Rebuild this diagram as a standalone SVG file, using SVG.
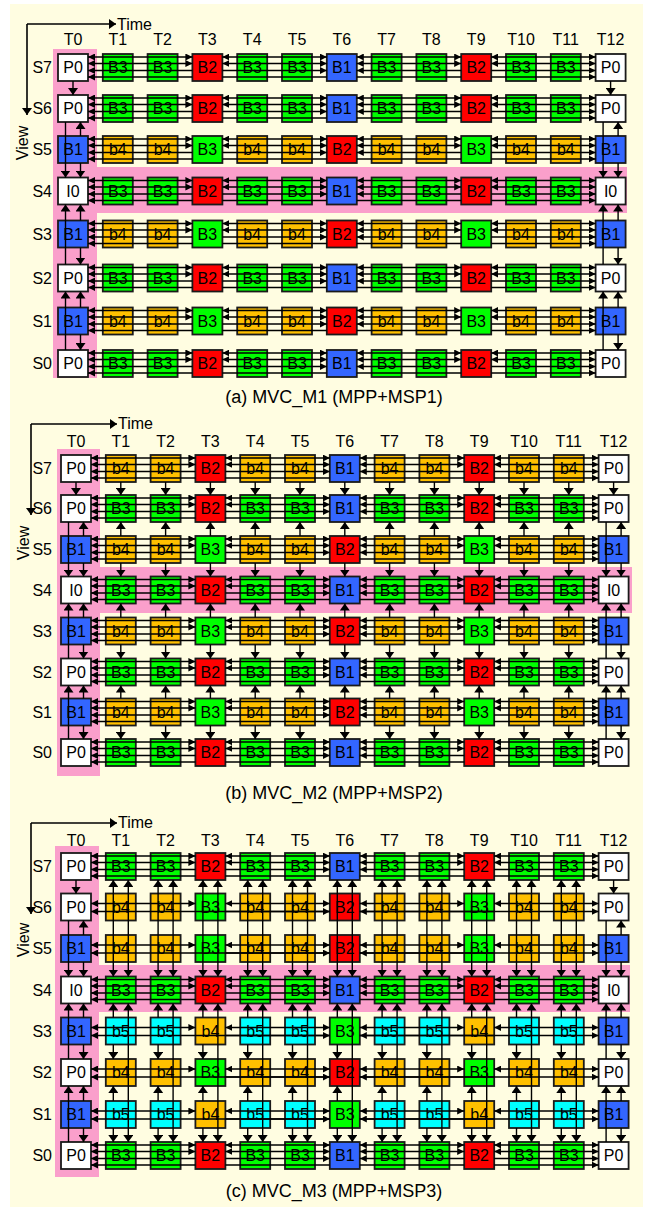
<svg xmlns="http://www.w3.org/2000/svg" width="646" height="1207" viewBox="0 0 646 1207">
<style>
.n text{font:16px "Liberation Sans",Arial,sans-serif;text-anchor:middle;dominant-baseline:central;fill:#000}
.w{fill:#fff}.k1{fill:#3366ff}.k2{fill:#ff0000}.k3{fill:#00ff00}.k4{fill:#ffc000}.k5{fill:#00ffff}
.lb text{font:16px "Liberation Sans",Arial,sans-serif;fill:#000}
.lb .s{text-anchor:end;dominant-baseline:central}
.lb .t{text-anchor:middle}
.lb .cap{font-size:18px;text-anchor:middle}
.pk{fill:#fa9fcb}
.ax{fill:none;stroke:#000;stroke-width:1.6}
</style>
<defs>
<marker id="ah" viewBox="0 0 7 7" refX="7" refY="3.5" markerWidth="7" markerHeight="7" markerUnits="userSpaceOnUse" orient="auto-start-reverse"><path d="M0,0L7,3.5L0,7z"/></marker>
<marker id="av" viewBox="0 0 7 10" refX="7" refY="5" markerWidth="7" markerHeight="10" markerUnits="userSpaceOnUse" orient="auto-start-reverse"><path d="M0,0L7,5L0,10z"/></marker>
<rect id="bx" x="-15" y="-13.5" width="30" height="27" stroke="#1a1a1a" stroke-width="1.8"/>
<g id="h4">
<g marker-start="url(#ah)" marker-end="url(#ah)">
<path d="M15,-10.5H119.4"/><path d="M149.4,-10.5H253.8"/><path d="M283.8,-10.5H388.2"/><path d="M418.2,-10.5H522.6"/>
<path d="M15,-4H119.4"/><path d="M149.4,-4H253.8"/><path d="M283.8,-4H388.2"/><path d="M418.2,-4H522.6"/>
</g>
<g marker-end="url(#ah)">
<path d="M119.4,3H15"/><path d="M149.4,3H253.8"/><path d="M388.2,3H283.8"/><path d="M418.2,3H522.6"/>
<path d="M253.8,9.5H149.4M119.4,9.5H15"/><path d="M283.8,9.5H388.2M418.2,9.5H522.6"/>
</g>
</g>
<g id="h2">
<g marker-start="url(#ah)" marker-end="url(#ah)">
<path d="M15,-3.5H119.4"/><path d="M149.4,-3.5H253.8"/><path d="M283.8,-3.5H388.2"/><path d="M418.2,-3.5H522.6"/>
</g>
<g marker-end="url(#ah)">
<path d="M253.8,4.5H15"/><path d="M149.4,4.5H253.8"/><path d="M283.8,4.5H522.6"/><path d="M418.2,4.5H283.8"/>
</g>
</g>
<g id="va" marker-end="url(#av)">
<path d="M0,81V95"/><path d="M7.5,136V122"/><path d="M-7.5,122V177.5"/><path d="M7.5,163V177.5"/><path d="M7.5,220.5V204.5"/><path d="M-7.5,264.5V204.5"/><path d="M7.5,247.5V264.5"/><path d="M7.5,307.5V291.5"/><path d="M-7.5,350V291.5"/><path d="M7.5,334.5V350"/>
</g>
<g id="vb0" marker-end="url(#av)">
<path d="M0,482V495"/><path d="M7.5,536V522"/><path d="M-7.5,522V576.5"/><path d="M7.5,563V576.5"/><path d="M7.5,617.5V603.5"/><path d="M-7.5,658.5V603.5"/><path d="M7.5,644.5V658.5"/><path d="M7.5,698.5V685.5"/><path d="M-7.5,739V685.5"/><path d="M7.5,725.5V739"/>
</g>
<g id="vbm" marker-end="url(#av)">
<path d="M0,482V495"/><path d="M0,536V522"/><path d="M0,563V576.5"/><path d="M0,617.5V603.5"/><path d="M0,644.5V658.5"/><path d="M0,698.5V685.5"/><path d="M0,725.5V739"/>
</g>
<g id="vc0" marker-end="url(#av)">
<path d="M0,880V893.5"/><path d="M7.5,935V920.5"/><path d="M-7.5,920.5V976.5"/><path d="M7.5,962V976.5"/><path d="M7.5,1017.5V1003.5"/><path d="M-7.5,1059V1003.5"/><path d="M7.5,1044.5V1059"/><path d="M7.5,1101V1086"/><path d="M-7.5,1142V1086"/><path d="M7.5,1128V1142"/>
</g>
<g id="vcm">
<g marker-start="url(#av)" marker-end="url(#av)"><path d="M-7.5,880V976.5"/><path d="M7.5,880V976.5"/><path d="M7.5,1003.5V1142"/></g>
<g marker-end="url(#av)"><path d="M-7.5,1017.5V1003.5"/><path d="M-7.5,1044.5V1059"/><path d="M-7.5,1101V1086"/><path d="M-7.5,1128V1142"/></g>
</g>
</defs>
<rect x="10" y="4" width="633" height="1203" fill="#fffde1"/>
<g id="highlights">
<rect class="pk" x="53" y="49" width="44" height="329"/><rect class="pk" x="53" y="167" width="574" height="46"/>
<rect class="pk" x="57" y="449" width="43" height="327"/><rect class="pk" x="57" y="567" width="575" height="46"/>
<rect class="pk" x="55" y="846" width="44" height="331"/><rect class="pk" x="55" y="965" width="575" height="47"/>
</g>
<g id="axes" class="ax">
<path d="M27,24H116" marker-end="url(#av)"/><path d="M27,24V115" marker-end="url(#av)"/>
<path d="M31,424H117" marker-end="url(#av)"/><path d="M31,424V515" marker-end="url(#av)"/>
<path d="M31,823H117" marker-end="url(#av)"/><path d="M31,823V914" marker-end="url(#av)"/>
</g>
<g id="labels" class="lb">
<text x="117" y="30">Time</text><text x="118" y="429">Time</text><text x="118" y="828">Time</text>
<text transform="translate(28,143) rotate(-90)" class="t">View</text>
<text transform="translate(29,543) rotate(-90)" class="t">View</text>
<text transform="translate(29,940) rotate(-90)" class="t">View</text>
<text class="t" x="73" y="45">T0</text><text class="t" x="117.8" y="45">T1</text><text class="t" x="162.6" y="45">T2</text><text class="t" x="207.4" y="45">T3</text><text class="t" x="252.2" y="45">T4</text><text class="t" x="297" y="45">T5</text><text class="t" x="341.8" y="45">T6</text><text class="t" x="386.6" y="45">T7</text><text class="t" x="431.4" y="45">T8</text><text class="t" x="476.2" y="45">T9</text><text class="t" x="521" y="45">T10</text><text class="t" x="565.8" y="45">T11</text><text class="t" x="610.6" y="45">T12</text>
<text class="t" x="76" y="446.5">T0</text><text class="t" x="120.8" y="446.5">T1</text><text class="t" x="165.6" y="446.5">T2</text><text class="t" x="210.4" y="446.5">T3</text><text class="t" x="255.2" y="446.5">T4</text><text class="t" x="300" y="446.5">T5</text><text class="t" x="344.8" y="446.5">T6</text><text class="t" x="389.6" y="446.5">T7</text><text class="t" x="434.4" y="446.5">T8</text><text class="t" x="479.2" y="446.5">T9</text><text class="t" x="524" y="446.5">T10</text><text class="t" x="568.8" y="446.5">T11</text><text class="t" x="613.6" y="446.5">T12</text>
<text class="t" x="76" y="846">T0</text><text class="t" x="120.8" y="846">T1</text><text class="t" x="165.6" y="846">T2</text><text class="t" x="210.4" y="846">T3</text><text class="t" x="255.2" y="846">T4</text><text class="t" x="300" y="846">T5</text><text class="t" x="344.8" y="846">T6</text><text class="t" x="389.6" y="846">T7</text><text class="t" x="434.4" y="846">T8</text><text class="t" x="479.2" y="846">T9</text><text class="t" x="524" y="846">T10</text><text class="t" x="568.8" y="846">T11</text><text class="t" x="613.6" y="846">T12</text>
<text class="s" x="52" y="67.5">S7</text><text class="s" x="52" y="108.5">S6</text><text class="s" x="52" y="149.5">S5</text><text class="s" x="52" y="191">S4</text><text class="s" x="52" y="234">S3</text><text class="s" x="52" y="278">S2</text><text class="s" x="52" y="321">S1</text><text class="s" x="52" y="363.5">S0</text>
<text class="s" x="52" y="468.5">S7</text><text class="s" x="52" y="508.5">S6</text><text class="s" x="52" y="549.5">S5</text><text class="s" x="52" y="590">S4</text><text class="s" x="52" y="631">S3</text><text class="s" x="52" y="672">S2</text><text class="s" x="52" y="712">S1</text><text class="s" x="52" y="752.5">S0</text>
<text class="s" x="52" y="866.5">S7</text><text class="s" x="52" y="907">S6</text><text class="s" x="52" y="948.5">S5</text><text class="s" x="52" y="990">S4</text><text class="s" x="52" y="1031">S3</text><text class="s" x="52" y="1072.5">S2</text><text class="s" x="52" y="1114.5">S1</text><text class="s" x="52" y="1155.5">S0</text>
<text class="cap" x="334" y="403">(a) MVC_M1 (MPP+MSP1)</text>
<text class="cap" x="334" y="799">(b) MVC_M2 (MPP+MSP2)</text>
<text class="cap" x="334" y="1197">(c) MVC_M3 (MPP+MSP3)</text>
</g>
<g id="nodes-a">
<g class="n" transform="translate(0,67.5)">
<g id="a-S7-T0" class="w"><use href="#bx" x="73"/><text x="73">P0</text></g>
<g id="a-S7-T1" class="k3"><use href="#bx" x="117.8"/><text x="117.8">B3</text></g>
<g id="a-S7-T2" class="k3"><use href="#bx" x="162.6"/><text x="162.6">B3</text></g>
<g id="a-S7-T3" class="k2"><use href="#bx" x="207.4"/><text x="207.4">B2</text></g>
<g id="a-S7-T4" class="k3"><use href="#bx" x="252.2"/><text x="252.2">B3</text></g>
<g id="a-S7-T5" class="k3"><use href="#bx" x="297"/><text x="297">B3</text></g>
<g id="a-S7-T6" class="k1"><use href="#bx" x="341.8"/><text x="341.8">B1</text></g>
<g id="a-S7-T7" class="k3"><use href="#bx" x="386.6"/><text x="386.6">B3</text></g>
<g id="a-S7-T8" class="k3"><use href="#bx" x="431.4"/><text x="431.4">B3</text></g>
<g id="a-S7-T9" class="k2"><use href="#bx" x="476.2"/><text x="476.2">B2</text></g>
<g id="a-S7-T10" class="k3"><use href="#bx" x="521"/><text x="521">B3</text></g>
<g id="a-S7-T11" class="k3"><use href="#bx" x="565.8"/><text x="565.8">B3</text></g>
<g id="a-S7-T12" class="w"><use href="#bx" x="610.6"/><text x="610.6">P0</text></g>
</g>
<g class="n" transform="translate(0,108.5)">
<g id="a-S6-T0" class="w"><use href="#bx" x="73"/><text x="73">P0</text></g>
<g id="a-S6-T1" class="k3"><use href="#bx" x="117.8"/><text x="117.8">B3</text></g>
<g id="a-S6-T2" class="k3"><use href="#bx" x="162.6"/><text x="162.6">B3</text></g>
<g id="a-S6-T3" class="k2"><use href="#bx" x="207.4"/><text x="207.4">B2</text></g>
<g id="a-S6-T4" class="k3"><use href="#bx" x="252.2"/><text x="252.2">B3</text></g>
<g id="a-S6-T5" class="k3"><use href="#bx" x="297"/><text x="297">B3</text></g>
<g id="a-S6-T6" class="k1"><use href="#bx" x="341.8"/><text x="341.8">B1</text></g>
<g id="a-S6-T7" class="k3"><use href="#bx" x="386.6"/><text x="386.6">B3</text></g>
<g id="a-S6-T8" class="k3"><use href="#bx" x="431.4"/><text x="431.4">B3</text></g>
<g id="a-S6-T9" class="k2"><use href="#bx" x="476.2"/><text x="476.2">B2</text></g>
<g id="a-S6-T10" class="k3"><use href="#bx" x="521"/><text x="521">B3</text></g>
<g id="a-S6-T11" class="k3"><use href="#bx" x="565.8"/><text x="565.8">B3</text></g>
<g id="a-S6-T12" class="w"><use href="#bx" x="610.6"/><text x="610.6">P0</text></g>
</g>
<g class="n" transform="translate(0,149.5)">
<g id="a-S5-T0" class="k1"><use href="#bx" x="73"/><text x="73">B1</text></g>
<g id="a-S5-T1" class="k4"><use href="#bx" x="117.8"/><text x="117.8">b4</text></g>
<g id="a-S5-T2" class="k4"><use href="#bx" x="162.6"/><text x="162.6">b4</text></g>
<g id="a-S5-T3" class="k3"><use href="#bx" x="207.4"/><text x="207.4">B3</text></g>
<g id="a-S5-T4" class="k4"><use href="#bx" x="252.2"/><text x="252.2">b4</text></g>
<g id="a-S5-T5" class="k4"><use href="#bx" x="297"/><text x="297">b4</text></g>
<g id="a-S5-T6" class="k2"><use href="#bx" x="341.8"/><text x="341.8">B2</text></g>
<g id="a-S5-T7" class="k4"><use href="#bx" x="386.6"/><text x="386.6">b4</text></g>
<g id="a-S5-T8" class="k4"><use href="#bx" x="431.4"/><text x="431.4">b4</text></g>
<g id="a-S5-T9" class="k3"><use href="#bx" x="476.2"/><text x="476.2">B3</text></g>
<g id="a-S5-T10" class="k4"><use href="#bx" x="521"/><text x="521">b4</text></g>
<g id="a-S5-T11" class="k4"><use href="#bx" x="565.8"/><text x="565.8">b4</text></g>
<g id="a-S5-T12" class="k1"><use href="#bx" x="610.6"/><text x="610.6">B1</text></g>
</g>
<g class="n" transform="translate(0,191)">
<g id="a-S4-T0" class="w"><use href="#bx" x="73"/><text x="73">I0</text></g>
<g id="a-S4-T1" class="k3"><use href="#bx" x="117.8"/><text x="117.8">B3</text></g>
<g id="a-S4-T2" class="k3"><use href="#bx" x="162.6"/><text x="162.6">B3</text></g>
<g id="a-S4-T3" class="k2"><use href="#bx" x="207.4"/><text x="207.4">B2</text></g>
<g id="a-S4-T4" class="k3"><use href="#bx" x="252.2"/><text x="252.2">B3</text></g>
<g id="a-S4-T5" class="k3"><use href="#bx" x="297"/><text x="297">B3</text></g>
<g id="a-S4-T6" class="k1"><use href="#bx" x="341.8"/><text x="341.8">B1</text></g>
<g id="a-S4-T7" class="k3"><use href="#bx" x="386.6"/><text x="386.6">B3</text></g>
<g id="a-S4-T8" class="k3"><use href="#bx" x="431.4"/><text x="431.4">B3</text></g>
<g id="a-S4-T9" class="k2"><use href="#bx" x="476.2"/><text x="476.2">B2</text></g>
<g id="a-S4-T10" class="k3"><use href="#bx" x="521"/><text x="521">B3</text></g>
<g id="a-S4-T11" class="k3"><use href="#bx" x="565.8"/><text x="565.8">B3</text></g>
<g id="a-S4-T12" class="w"><use href="#bx" x="610.6"/><text x="610.6">I0</text></g>
</g>
<g class="n" transform="translate(0,234)">
<g id="a-S3-T0" class="k1"><use href="#bx" x="73"/><text x="73">B1</text></g>
<g id="a-S3-T1" class="k4"><use href="#bx" x="117.8"/><text x="117.8">b4</text></g>
<g id="a-S3-T2" class="k4"><use href="#bx" x="162.6"/><text x="162.6">b4</text></g>
<g id="a-S3-T3" class="k3"><use href="#bx" x="207.4"/><text x="207.4">B3</text></g>
<g id="a-S3-T4" class="k4"><use href="#bx" x="252.2"/><text x="252.2">b4</text></g>
<g id="a-S3-T5" class="k4"><use href="#bx" x="297"/><text x="297">b4</text></g>
<g id="a-S3-T6" class="k2"><use href="#bx" x="341.8"/><text x="341.8">B2</text></g>
<g id="a-S3-T7" class="k4"><use href="#bx" x="386.6"/><text x="386.6">b4</text></g>
<g id="a-S3-T8" class="k4"><use href="#bx" x="431.4"/><text x="431.4">b4</text></g>
<g id="a-S3-T9" class="k3"><use href="#bx" x="476.2"/><text x="476.2">B3</text></g>
<g id="a-S3-T10" class="k4"><use href="#bx" x="521"/><text x="521">b4</text></g>
<g id="a-S3-T11" class="k4"><use href="#bx" x="565.8"/><text x="565.8">b4</text></g>
<g id="a-S3-T12" class="k1"><use href="#bx" x="610.6"/><text x="610.6">B1</text></g>
</g>
<g class="n" transform="translate(0,278)">
<g id="a-S2-T0" class="w"><use href="#bx" x="73"/><text x="73">P0</text></g>
<g id="a-S2-T1" class="k3"><use href="#bx" x="117.8"/><text x="117.8">B3</text></g>
<g id="a-S2-T2" class="k3"><use href="#bx" x="162.6"/><text x="162.6">B3</text></g>
<g id="a-S2-T3" class="k2"><use href="#bx" x="207.4"/><text x="207.4">B2</text></g>
<g id="a-S2-T4" class="k3"><use href="#bx" x="252.2"/><text x="252.2">B3</text></g>
<g id="a-S2-T5" class="k3"><use href="#bx" x="297"/><text x="297">B3</text></g>
<g id="a-S2-T6" class="k1"><use href="#bx" x="341.8"/><text x="341.8">B1</text></g>
<g id="a-S2-T7" class="k3"><use href="#bx" x="386.6"/><text x="386.6">B3</text></g>
<g id="a-S2-T8" class="k3"><use href="#bx" x="431.4"/><text x="431.4">B3</text></g>
<g id="a-S2-T9" class="k2"><use href="#bx" x="476.2"/><text x="476.2">B2</text></g>
<g id="a-S2-T10" class="k3"><use href="#bx" x="521"/><text x="521">B3</text></g>
<g id="a-S2-T11" class="k3"><use href="#bx" x="565.8"/><text x="565.8">B3</text></g>
<g id="a-S2-T12" class="w"><use href="#bx" x="610.6"/><text x="610.6">P0</text></g>
</g>
<g class="n" transform="translate(0,321)">
<g id="a-S1-T0" class="k1"><use href="#bx" x="73"/><text x="73">B1</text></g>
<g id="a-S1-T1" class="k4"><use href="#bx" x="117.8"/><text x="117.8">b4</text></g>
<g id="a-S1-T2" class="k4"><use href="#bx" x="162.6"/><text x="162.6">b4</text></g>
<g id="a-S1-T3" class="k3"><use href="#bx" x="207.4"/><text x="207.4">B3</text></g>
<g id="a-S1-T4" class="k4"><use href="#bx" x="252.2"/><text x="252.2">b4</text></g>
<g id="a-S1-T5" class="k4"><use href="#bx" x="297"/><text x="297">b4</text></g>
<g id="a-S1-T6" class="k2"><use href="#bx" x="341.8"/><text x="341.8">B2</text></g>
<g id="a-S1-T7" class="k4"><use href="#bx" x="386.6"/><text x="386.6">b4</text></g>
<g id="a-S1-T8" class="k4"><use href="#bx" x="431.4"/><text x="431.4">b4</text></g>
<g id="a-S1-T9" class="k3"><use href="#bx" x="476.2"/><text x="476.2">B3</text></g>
<g id="a-S1-T10" class="k4"><use href="#bx" x="521"/><text x="521">b4</text></g>
<g id="a-S1-T11" class="k4"><use href="#bx" x="565.8"/><text x="565.8">b4</text></g>
<g id="a-S1-T12" class="k1"><use href="#bx" x="610.6"/><text x="610.6">B1</text></g>
</g>
<g class="n" transform="translate(0,363.5)">
<g id="a-S0-T0" class="w"><use href="#bx" x="73"/><text x="73">P0</text></g>
<g id="a-S0-T1" class="k3"><use href="#bx" x="117.8"/><text x="117.8">B3</text></g>
<g id="a-S0-T2" class="k3"><use href="#bx" x="162.6"/><text x="162.6">B3</text></g>
<g id="a-S0-T3" class="k2"><use href="#bx" x="207.4"/><text x="207.4">B2</text></g>
<g id="a-S0-T4" class="k3"><use href="#bx" x="252.2"/><text x="252.2">B3</text></g>
<g id="a-S0-T5" class="k3"><use href="#bx" x="297"/><text x="297">B3</text></g>
<g id="a-S0-T6" class="k1"><use href="#bx" x="341.8"/><text x="341.8">B1</text></g>
<g id="a-S0-T7" class="k3"><use href="#bx" x="386.6"/><text x="386.6">B3</text></g>
<g id="a-S0-T8" class="k3"><use href="#bx" x="431.4"/><text x="431.4">B3</text></g>
<g id="a-S0-T9" class="k2"><use href="#bx" x="476.2"/><text x="476.2">B2</text></g>
<g id="a-S0-T10" class="k3"><use href="#bx" x="521"/><text x="521">B3</text></g>
<g id="a-S0-T11" class="k3"><use href="#bx" x="565.8"/><text x="565.8">B3</text></g>
<g id="a-S0-T12" class="w"><use href="#bx" x="610.6"/><text x="610.6">P0</text></g>
</g>
</g>
<g id="nodes-b">
<g class="n" transform="translate(0,468.5)">
<g id="b-S7-T0" class="w"><use href="#bx" x="76"/><text x="76">P0</text></g>
<g id="b-S7-T1" class="k4"><use href="#bx" x="120.8"/><text x="120.8">b4</text></g>
<g id="b-S7-T2" class="k4"><use href="#bx" x="165.6"/><text x="165.6">b4</text></g>
<g id="b-S7-T3" class="k2"><use href="#bx" x="210.4"/><text x="210.4">B2</text></g>
<g id="b-S7-T4" class="k4"><use href="#bx" x="255.2"/><text x="255.2">b4</text></g>
<g id="b-S7-T5" class="k4"><use href="#bx" x="300"/><text x="300">b4</text></g>
<g id="b-S7-T6" class="k1"><use href="#bx" x="344.8"/><text x="344.8">B1</text></g>
<g id="b-S7-T7" class="k4"><use href="#bx" x="389.6"/><text x="389.6">b4</text></g>
<g id="b-S7-T8" class="k4"><use href="#bx" x="434.4"/><text x="434.4">b4</text></g>
<g id="b-S7-T9" class="k2"><use href="#bx" x="479.2"/><text x="479.2">B2</text></g>
<g id="b-S7-T10" class="k4"><use href="#bx" x="524"/><text x="524">b4</text></g>
<g id="b-S7-T11" class="k4"><use href="#bx" x="568.8"/><text x="568.8">b4</text></g>
<g id="b-S7-T12" class="w"><use href="#bx" x="613.6"/><text x="613.6">P0</text></g>
</g>
<g class="n" transform="translate(0,508.5)">
<g id="b-S6-T0" class="w"><use href="#bx" x="76"/><text x="76">P0</text></g>
<g id="b-S6-T1" class="k3"><use href="#bx" x="120.8"/><text x="120.8">B3</text></g>
<g id="b-S6-T2" class="k3"><use href="#bx" x="165.6"/><text x="165.6">B3</text></g>
<g id="b-S6-T3" class="k2"><use href="#bx" x="210.4"/><text x="210.4">B2</text></g>
<g id="b-S6-T4" class="k3"><use href="#bx" x="255.2"/><text x="255.2">B3</text></g>
<g id="b-S6-T5" class="k3"><use href="#bx" x="300"/><text x="300">B3</text></g>
<g id="b-S6-T6" class="k1"><use href="#bx" x="344.8"/><text x="344.8">B1</text></g>
<g id="b-S6-T7" class="k3"><use href="#bx" x="389.6"/><text x="389.6">B3</text></g>
<g id="b-S6-T8" class="k3"><use href="#bx" x="434.4"/><text x="434.4">B3</text></g>
<g id="b-S6-T9" class="k2"><use href="#bx" x="479.2"/><text x="479.2">B2</text></g>
<g id="b-S6-T10" class="k3"><use href="#bx" x="524"/><text x="524">B3</text></g>
<g id="b-S6-T11" class="k3"><use href="#bx" x="568.8"/><text x="568.8">B3</text></g>
<g id="b-S6-T12" class="w"><use href="#bx" x="613.6"/><text x="613.6">P0</text></g>
</g>
<g class="n" transform="translate(0,549.5)">
<g id="b-S5-T0" class="k1"><use href="#bx" x="76"/><text x="76">B1</text></g>
<g id="b-S5-T1" class="k4"><use href="#bx" x="120.8"/><text x="120.8">b4</text></g>
<g id="b-S5-T2" class="k4"><use href="#bx" x="165.6"/><text x="165.6">b4</text></g>
<g id="b-S5-T3" class="k3"><use href="#bx" x="210.4"/><text x="210.4">B3</text></g>
<g id="b-S5-T4" class="k4"><use href="#bx" x="255.2"/><text x="255.2">b4</text></g>
<g id="b-S5-T5" class="k4"><use href="#bx" x="300"/><text x="300">b4</text></g>
<g id="b-S5-T6" class="k2"><use href="#bx" x="344.8"/><text x="344.8">B2</text></g>
<g id="b-S5-T7" class="k4"><use href="#bx" x="389.6"/><text x="389.6">b4</text></g>
<g id="b-S5-T8" class="k4"><use href="#bx" x="434.4"/><text x="434.4">b4</text></g>
<g id="b-S5-T9" class="k3"><use href="#bx" x="479.2"/><text x="479.2">B3</text></g>
<g id="b-S5-T10" class="k4"><use href="#bx" x="524"/><text x="524">b4</text></g>
<g id="b-S5-T11" class="k4"><use href="#bx" x="568.8"/><text x="568.8">b4</text></g>
<g id="b-S5-T12" class="k1"><use href="#bx" x="613.6"/><text x="613.6">B1</text></g>
</g>
<g class="n" transform="translate(0,590)">
<g id="b-S4-T0" class="w"><use href="#bx" x="76"/><text x="76">I0</text></g>
<g id="b-S4-T1" class="k3"><use href="#bx" x="120.8"/><text x="120.8">B3</text></g>
<g id="b-S4-T2" class="k3"><use href="#bx" x="165.6"/><text x="165.6">B3</text></g>
<g id="b-S4-T3" class="k2"><use href="#bx" x="210.4"/><text x="210.4">B2</text></g>
<g id="b-S4-T4" class="k3"><use href="#bx" x="255.2"/><text x="255.2">B3</text></g>
<g id="b-S4-T5" class="k3"><use href="#bx" x="300"/><text x="300">B3</text></g>
<g id="b-S4-T6" class="k1"><use href="#bx" x="344.8"/><text x="344.8">B1</text></g>
<g id="b-S4-T7" class="k3"><use href="#bx" x="389.6"/><text x="389.6">B3</text></g>
<g id="b-S4-T8" class="k3"><use href="#bx" x="434.4"/><text x="434.4">B3</text></g>
<g id="b-S4-T9" class="k2"><use href="#bx" x="479.2"/><text x="479.2">B2</text></g>
<g id="b-S4-T10" class="k3"><use href="#bx" x="524"/><text x="524">B3</text></g>
<g id="b-S4-T11" class="k3"><use href="#bx" x="568.8"/><text x="568.8">B3</text></g>
<g id="b-S4-T12" class="w"><use href="#bx" x="613.6"/><text x="613.6">I0</text></g>
</g>
<g class="n" transform="translate(0,631)">
<g id="b-S3-T0" class="k1"><use href="#bx" x="76"/><text x="76">B1</text></g>
<g id="b-S3-T1" class="k4"><use href="#bx" x="120.8"/><text x="120.8">b4</text></g>
<g id="b-S3-T2" class="k4"><use href="#bx" x="165.6"/><text x="165.6">b4</text></g>
<g id="b-S3-T3" class="k3"><use href="#bx" x="210.4"/><text x="210.4">B3</text></g>
<g id="b-S3-T4" class="k4"><use href="#bx" x="255.2"/><text x="255.2">b4</text></g>
<g id="b-S3-T5" class="k4"><use href="#bx" x="300"/><text x="300">b4</text></g>
<g id="b-S3-T6" class="k2"><use href="#bx" x="344.8"/><text x="344.8">B2</text></g>
<g id="b-S3-T7" class="k4"><use href="#bx" x="389.6"/><text x="389.6">b4</text></g>
<g id="b-S3-T8" class="k4"><use href="#bx" x="434.4"/><text x="434.4">b4</text></g>
<g id="b-S3-T9" class="k3"><use href="#bx" x="479.2"/><text x="479.2">B3</text></g>
<g id="b-S3-T10" class="k4"><use href="#bx" x="524"/><text x="524">b4</text></g>
<g id="b-S3-T11" class="k4"><use href="#bx" x="568.8"/><text x="568.8">b4</text></g>
<g id="b-S3-T12" class="k1"><use href="#bx" x="613.6"/><text x="613.6">B1</text></g>
</g>
<g class="n" transform="translate(0,672)">
<g id="b-S2-T0" class="w"><use href="#bx" x="76"/><text x="76">P0</text></g>
<g id="b-S2-T1" class="k3"><use href="#bx" x="120.8"/><text x="120.8">B3</text></g>
<g id="b-S2-T2" class="k3"><use href="#bx" x="165.6"/><text x="165.6">B3</text></g>
<g id="b-S2-T3" class="k2"><use href="#bx" x="210.4"/><text x="210.4">B2</text></g>
<g id="b-S2-T4" class="k3"><use href="#bx" x="255.2"/><text x="255.2">B3</text></g>
<g id="b-S2-T5" class="k3"><use href="#bx" x="300"/><text x="300">B3</text></g>
<g id="b-S2-T6" class="k1"><use href="#bx" x="344.8"/><text x="344.8">B1</text></g>
<g id="b-S2-T7" class="k3"><use href="#bx" x="389.6"/><text x="389.6">B3</text></g>
<g id="b-S2-T8" class="k3"><use href="#bx" x="434.4"/><text x="434.4">B3</text></g>
<g id="b-S2-T9" class="k2"><use href="#bx" x="479.2"/><text x="479.2">B2</text></g>
<g id="b-S2-T10" class="k3"><use href="#bx" x="524"/><text x="524">B3</text></g>
<g id="b-S2-T11" class="k3"><use href="#bx" x="568.8"/><text x="568.8">B3</text></g>
<g id="b-S2-T12" class="w"><use href="#bx" x="613.6"/><text x="613.6">P0</text></g>
</g>
<g class="n" transform="translate(0,712)">
<g id="b-S1-T0" class="k1"><use href="#bx" x="76"/><text x="76">B1</text></g>
<g id="b-S1-T1" class="k4"><use href="#bx" x="120.8"/><text x="120.8">b4</text></g>
<g id="b-S1-T2" class="k4"><use href="#bx" x="165.6"/><text x="165.6">b4</text></g>
<g id="b-S1-T3" class="k3"><use href="#bx" x="210.4"/><text x="210.4">B3</text></g>
<g id="b-S1-T4" class="k4"><use href="#bx" x="255.2"/><text x="255.2">b4</text></g>
<g id="b-S1-T5" class="k4"><use href="#bx" x="300"/><text x="300">b4</text></g>
<g id="b-S1-T6" class="k2"><use href="#bx" x="344.8"/><text x="344.8">B2</text></g>
<g id="b-S1-T7" class="k4"><use href="#bx" x="389.6"/><text x="389.6">b4</text></g>
<g id="b-S1-T8" class="k4"><use href="#bx" x="434.4"/><text x="434.4">b4</text></g>
<g id="b-S1-T9" class="k3"><use href="#bx" x="479.2"/><text x="479.2">B3</text></g>
<g id="b-S1-T10" class="k4"><use href="#bx" x="524"/><text x="524">b4</text></g>
<g id="b-S1-T11" class="k4"><use href="#bx" x="568.8"/><text x="568.8">b4</text></g>
<g id="b-S1-T12" class="k1"><use href="#bx" x="613.6"/><text x="613.6">B1</text></g>
</g>
<g class="n" transform="translate(0,752.5)">
<g id="b-S0-T0" class="w"><use href="#bx" x="76"/><text x="76">P0</text></g>
<g id="b-S0-T1" class="k3"><use href="#bx" x="120.8"/><text x="120.8">B3</text></g>
<g id="b-S0-T2" class="k3"><use href="#bx" x="165.6"/><text x="165.6">B3</text></g>
<g id="b-S0-T3" class="k2"><use href="#bx" x="210.4"/><text x="210.4">B2</text></g>
<g id="b-S0-T4" class="k3"><use href="#bx" x="255.2"/><text x="255.2">B3</text></g>
<g id="b-S0-T5" class="k3"><use href="#bx" x="300"/><text x="300">B3</text></g>
<g id="b-S0-T6" class="k1"><use href="#bx" x="344.8"/><text x="344.8">B1</text></g>
<g id="b-S0-T7" class="k3"><use href="#bx" x="389.6"/><text x="389.6">B3</text></g>
<g id="b-S0-T8" class="k3"><use href="#bx" x="434.4"/><text x="434.4">B3</text></g>
<g id="b-S0-T9" class="k2"><use href="#bx" x="479.2"/><text x="479.2">B2</text></g>
<g id="b-S0-T10" class="k3"><use href="#bx" x="524"/><text x="524">B3</text></g>
<g id="b-S0-T11" class="k3"><use href="#bx" x="568.8"/><text x="568.8">B3</text></g>
<g id="b-S0-T12" class="w"><use href="#bx" x="613.6"/><text x="613.6">P0</text></g>
</g>
</g>
<g id="nodes-c">
<g class="n" transform="translate(0,866.5)">
<g id="c-S7-T0" class="w"><use href="#bx" x="76"/><text x="76">P0</text></g>
<g id="c-S7-T1" class="k3"><use href="#bx" x="120.8"/><text x="120.8">B3</text></g>
<g id="c-S7-T2" class="k3"><use href="#bx" x="165.6"/><text x="165.6">B3</text></g>
<g id="c-S7-T3" class="k2"><use href="#bx" x="210.4"/><text x="210.4">B2</text></g>
<g id="c-S7-T4" class="k3"><use href="#bx" x="255.2"/><text x="255.2">B3</text></g>
<g id="c-S7-T5" class="k3"><use href="#bx" x="300"/><text x="300">B3</text></g>
<g id="c-S7-T6" class="k1"><use href="#bx" x="344.8"/><text x="344.8">B1</text></g>
<g id="c-S7-T7" class="k3"><use href="#bx" x="389.6"/><text x="389.6">B3</text></g>
<g id="c-S7-T8" class="k3"><use href="#bx" x="434.4"/><text x="434.4">B3</text></g>
<g id="c-S7-T9" class="k2"><use href="#bx" x="479.2"/><text x="479.2">B2</text></g>
<g id="c-S7-T10" class="k3"><use href="#bx" x="524"/><text x="524">B3</text></g>
<g id="c-S7-T11" class="k3"><use href="#bx" x="568.8"/><text x="568.8">B3</text></g>
<g id="c-S7-T12" class="w"><use href="#bx" x="613.6"/><text x="613.6">P0</text></g>
</g>
<g class="n" transform="translate(0,907)">
<g id="c-S6-T0" class="w"><use href="#bx" x="76"/><text x="76">P0</text></g>
<g id="c-S6-T1" class="k4"><use href="#bx" x="120.8"/><text x="120.8">b4</text></g>
<g id="c-S6-T2" class="k4"><use href="#bx" x="165.6"/><text x="165.6">b4</text></g>
<g id="c-S6-T3" class="k3"><use href="#bx" x="210.4"/><text x="210.4">B3</text></g>
<g id="c-S6-T4" class="k4"><use href="#bx" x="255.2"/><text x="255.2">b4</text></g>
<g id="c-S6-T5" class="k4"><use href="#bx" x="300"/><text x="300">b4</text></g>
<g id="c-S6-T6" class="k2"><use href="#bx" x="344.8"/><text x="344.8">B2</text></g>
<g id="c-S6-T7" class="k4"><use href="#bx" x="389.6"/><text x="389.6">b4</text></g>
<g id="c-S6-T8" class="k4"><use href="#bx" x="434.4"/><text x="434.4">b4</text></g>
<g id="c-S6-T9" class="k3"><use href="#bx" x="479.2"/><text x="479.2">B3</text></g>
<g id="c-S6-T10" class="k4"><use href="#bx" x="524"/><text x="524">b4</text></g>
<g id="c-S6-T11" class="k4"><use href="#bx" x="568.8"/><text x="568.8">b4</text></g>
<g id="c-S6-T12" class="w"><use href="#bx" x="613.6"/><text x="613.6">P0</text></g>
</g>
<g class="n" transform="translate(0,948.5)">
<g id="c-S5-T0" class="k1"><use href="#bx" x="76"/><text x="76">B1</text></g>
<g id="c-S5-T1" class="k4"><use href="#bx" x="120.8"/><text x="120.8">b4</text></g>
<g id="c-S5-T2" class="k4"><use href="#bx" x="165.6"/><text x="165.6">b4</text></g>
<g id="c-S5-T3" class="k3"><use href="#bx" x="210.4"/><text x="210.4">B3</text></g>
<g id="c-S5-T4" class="k4"><use href="#bx" x="255.2"/><text x="255.2">b4</text></g>
<g id="c-S5-T5" class="k4"><use href="#bx" x="300"/><text x="300">b4</text></g>
<g id="c-S5-T6" class="k2"><use href="#bx" x="344.8"/><text x="344.8">B2</text></g>
<g id="c-S5-T7" class="k4"><use href="#bx" x="389.6"/><text x="389.6">b4</text></g>
<g id="c-S5-T8" class="k4"><use href="#bx" x="434.4"/><text x="434.4">b4</text></g>
<g id="c-S5-T9" class="k3"><use href="#bx" x="479.2"/><text x="479.2">B3</text></g>
<g id="c-S5-T10" class="k4"><use href="#bx" x="524"/><text x="524">b4</text></g>
<g id="c-S5-T11" class="k4"><use href="#bx" x="568.8"/><text x="568.8">b4</text></g>
<g id="c-S5-T12" class="k1"><use href="#bx" x="613.6"/><text x="613.6">B1</text></g>
</g>
<g class="n" transform="translate(0,990)">
<g id="c-S4-T0" class="w"><use href="#bx" x="76"/><text x="76">I0</text></g>
<g id="c-S4-T1" class="k3"><use href="#bx" x="120.8"/><text x="120.8">B3</text></g>
<g id="c-S4-T2" class="k3"><use href="#bx" x="165.6"/><text x="165.6">B3</text></g>
<g id="c-S4-T3" class="k2"><use href="#bx" x="210.4"/><text x="210.4">B2</text></g>
<g id="c-S4-T4" class="k3"><use href="#bx" x="255.2"/><text x="255.2">B3</text></g>
<g id="c-S4-T5" class="k3"><use href="#bx" x="300"/><text x="300">B3</text></g>
<g id="c-S4-T6" class="k1"><use href="#bx" x="344.8"/><text x="344.8">B1</text></g>
<g id="c-S4-T7" class="k3"><use href="#bx" x="389.6"/><text x="389.6">B3</text></g>
<g id="c-S4-T8" class="k3"><use href="#bx" x="434.4"/><text x="434.4">B3</text></g>
<g id="c-S4-T9" class="k2"><use href="#bx" x="479.2"/><text x="479.2">B2</text></g>
<g id="c-S4-T10" class="k3"><use href="#bx" x="524"/><text x="524">B3</text></g>
<g id="c-S4-T11" class="k3"><use href="#bx" x="568.8"/><text x="568.8">B3</text></g>
<g id="c-S4-T12" class="w"><use href="#bx" x="613.6"/><text x="613.6">I0</text></g>
</g>
<g class="n" transform="translate(0,1031)">
<g id="c-S3-T0" class="k1"><use href="#bx" x="76"/><text x="76">B1</text></g>
<g id="c-S3-T1" class="k5"><use href="#bx" x="120.8"/><text x="120.8">b5</text></g>
<g id="c-S3-T2" class="k5"><use href="#bx" x="165.6"/><text x="165.6">b5</text></g>
<g id="c-S3-T3" class="k4"><use href="#bx" x="210.4"/><text x="210.4">b4</text></g>
<g id="c-S3-T4" class="k5"><use href="#bx" x="255.2"/><text x="255.2">b5</text></g>
<g id="c-S3-T5" class="k5"><use href="#bx" x="300"/><text x="300">b5</text></g>
<g id="c-S3-T6" class="k3"><use href="#bx" x="344.8"/><text x="344.8">B3</text></g>
<g id="c-S3-T7" class="k5"><use href="#bx" x="389.6"/><text x="389.6">b5</text></g>
<g id="c-S3-T8" class="k5"><use href="#bx" x="434.4"/><text x="434.4">b5</text></g>
<g id="c-S3-T9" class="k4"><use href="#bx" x="479.2"/><text x="479.2">b4</text></g>
<g id="c-S3-T10" class="k5"><use href="#bx" x="524"/><text x="524">b5</text></g>
<g id="c-S3-T11" class="k5"><use href="#bx" x="568.8"/><text x="568.8">b5</text></g>
<g id="c-S3-T12" class="k1"><use href="#bx" x="613.6"/><text x="613.6">B1</text></g>
</g>
<g class="n" transform="translate(0,1072.5)">
<g id="c-S2-T0" class="w"><use href="#bx" x="76"/><text x="76">P0</text></g>
<g id="c-S2-T1" class="k4"><use href="#bx" x="120.8"/><text x="120.8">b4</text></g>
<g id="c-S2-T2" class="k4"><use href="#bx" x="165.6"/><text x="165.6">b4</text></g>
<g id="c-S2-T3" class="k3"><use href="#bx" x="210.4"/><text x="210.4">B3</text></g>
<g id="c-S2-T4" class="k4"><use href="#bx" x="255.2"/><text x="255.2">b4</text></g>
<g id="c-S2-T5" class="k4"><use href="#bx" x="300"/><text x="300">b4</text></g>
<g id="c-S2-T6" class="k2"><use href="#bx" x="344.8"/><text x="344.8">B2</text></g>
<g id="c-S2-T7" class="k4"><use href="#bx" x="389.6"/><text x="389.6">b4</text></g>
<g id="c-S2-T8" class="k4"><use href="#bx" x="434.4"/><text x="434.4">b4</text></g>
<g id="c-S2-T9" class="k3"><use href="#bx" x="479.2"/><text x="479.2">B3</text></g>
<g id="c-S2-T10" class="k4"><use href="#bx" x="524"/><text x="524">b4</text></g>
<g id="c-S2-T11" class="k4"><use href="#bx" x="568.8"/><text x="568.8">b4</text></g>
<g id="c-S2-T12" class="w"><use href="#bx" x="613.6"/><text x="613.6">P0</text></g>
</g>
<g class="n" transform="translate(0,1114.5)">
<g id="c-S1-T0" class="k1"><use href="#bx" x="76"/><text x="76">B1</text></g>
<g id="c-S1-T1" class="k5"><use href="#bx" x="120.8"/><text x="120.8">b5</text></g>
<g id="c-S1-T2" class="k5"><use href="#bx" x="165.6"/><text x="165.6">b5</text></g>
<g id="c-S1-T3" class="k4"><use href="#bx" x="210.4"/><text x="210.4">b4</text></g>
<g id="c-S1-T4" class="k5"><use href="#bx" x="255.2"/><text x="255.2">b5</text></g>
<g id="c-S1-T5" class="k5"><use href="#bx" x="300"/><text x="300">b5</text></g>
<g id="c-S1-T6" class="k3"><use href="#bx" x="344.8"/><text x="344.8">B3</text></g>
<g id="c-S1-T7" class="k5"><use href="#bx" x="389.6"/><text x="389.6">b5</text></g>
<g id="c-S1-T8" class="k5"><use href="#bx" x="434.4"/><text x="434.4">b5</text></g>
<g id="c-S1-T9" class="k4"><use href="#bx" x="479.2"/><text x="479.2">b4</text></g>
<g id="c-S1-T10" class="k5"><use href="#bx" x="524"/><text x="524">b5</text></g>
<g id="c-S1-T11" class="k5"><use href="#bx" x="568.8"/><text x="568.8">b5</text></g>
<g id="c-S1-T12" class="k1"><use href="#bx" x="613.6"/><text x="613.6">B1</text></g>
</g>
<g class="n" transform="translate(0,1155.5)">
<g id="c-S0-T0" class="w"><use href="#bx" x="76"/><text x="76">P0</text></g>
<g id="c-S0-T1" class="k3"><use href="#bx" x="120.8"/><text x="120.8">B3</text></g>
<g id="c-S0-T2" class="k3"><use href="#bx" x="165.6"/><text x="165.6">B3</text></g>
<g id="c-S0-T3" class="k2"><use href="#bx" x="210.4"/><text x="210.4">B2</text></g>
<g id="c-S0-T4" class="k3"><use href="#bx" x="255.2"/><text x="255.2">B3</text></g>
<g id="c-S0-T5" class="k3"><use href="#bx" x="300"/><text x="300">B3</text></g>
<g id="c-S0-T6" class="k1"><use href="#bx" x="344.8"/><text x="344.8">B1</text></g>
<g id="c-S0-T7" class="k3"><use href="#bx" x="389.6"/><text x="389.6">B3</text></g>
<g id="c-S0-T8" class="k3"><use href="#bx" x="434.4"/><text x="434.4">B3</text></g>
<g id="c-S0-T9" class="k2"><use href="#bx" x="479.2"/><text x="479.2">B2</text></g>
<g id="c-S0-T10" class="k3"><use href="#bx" x="524"/><text x="524">B3</text></g>
<g id="c-S0-T11" class="k3"><use href="#bx" x="568.8"/><text x="568.8">B3</text></g>
<g id="c-S0-T12" class="w"><use href="#bx" x="613.6"/><text x="613.6">P0</text></g>
</g>
</g>
<g id="connectors" fill="none" stroke="#000" stroke-width="1.4">
<use href="#h4" x="73" y="67.5"/><use href="#h4" x="73" y="108.5"/><use href="#h4" x="73" y="149.5"/><use href="#h4" x="73" y="191"/><use href="#h4" x="73" y="234"/><use href="#h4" x="73" y="278"/><use href="#h4" x="73" y="321"/><use href="#h4" x="73" y="363.5"/>
<use href="#va" x="73"/><use href="#va" x="610.6"/>
<use href="#h4" x="76" y="468.5"/><use href="#h4" x="76" y="508.5"/><use href="#h4" x="76" y="549.5"/><use href="#h4" x="76" y="590"/><use href="#h4" x="76" y="631"/><use href="#h4" x="76" y="672"/><use href="#h4" x="76" y="712"/><use href="#h4" x="76" y="752.5"/>
<use href="#vb0" x="76"/><use href="#vb0" x="613.6"/>
<use href="#vbm" x="120.8"/><use href="#vbm" x="165.6"/><use href="#vbm" x="210.4"/><use href="#vbm" x="255.2"/><use href="#vbm" x="300"/><use href="#vbm" x="344.8"/><use href="#vbm" x="389.6"/><use href="#vbm" x="434.4"/><use href="#vbm" x="479.2"/><use href="#vbm" x="524"/><use href="#vbm" x="568.8"/>
<use href="#h4" x="76" y="866.5"/><use href="#h2" x="76" y="907"/><use href="#h2" x="76" y="948.5"/><use href="#h4" x="76" y="990"/><use href="#h2" x="76" y="1031"/><use href="#h2" x="76" y="1072.5"/><use href="#h2" x="76" y="1114.5"/><use href="#h4" x="76" y="1155.5"/>
<use href="#vc0" x="76"/><use href="#vc0" x="613.6"/>
<use href="#vcm" x="120.8"/><use href="#vcm" x="165.6"/><use href="#vcm" x="210.4"/><use href="#vcm" x="255.2"/><use href="#vcm" x="300"/><use href="#vcm" x="344.8"/><use href="#vcm" x="389.6"/><use href="#vcm" x="434.4"/><use href="#vcm" x="479.2"/><use href="#vcm" x="524"/><use href="#vcm" x="568.8"/>
</g>
</svg>
